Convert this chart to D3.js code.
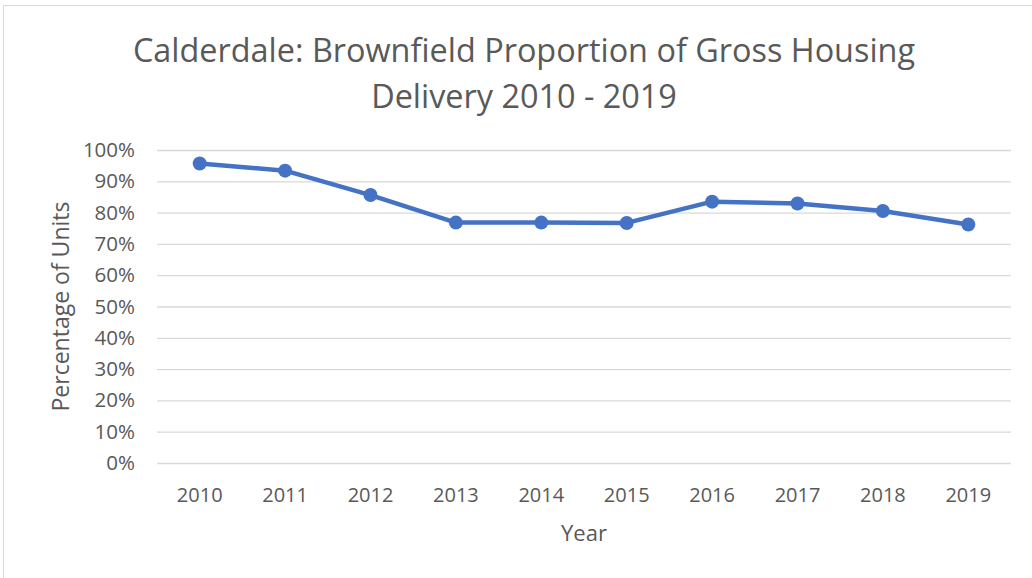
<!DOCTYPE html>
<html>
<head>
<meta charset="utf-8">
<script src="https://cdn.jsdelivr.net/npm/d3@7"></script>
<style>
  html, body { margin: 0; padding: 0; background: #fff; }
  svg text { font-family: "Open Sans", "Noto Sans", sans-serif; fill: #595959; }
</style>
</head>
<body>
<svg id="chart" width="1032" height="578"></svg>
<script>
// Brownfield share of gross housing delivery, by year
const years = ["2010", "2011", "2012", "2013", "2014", "2015", "2016", "2017", "2018", "2019"];
const brownfieldShare = [0.957, 0.934, 0.856, 0.768, 0.768, 0.767, 0.835, 0.829, 0.805, 0.762];
const yTicks = [0, 0.1, 0.2, 0.3, 0.4, 0.5, 0.6, 0.7, 0.8, 0.9, 1.0];
const titleLines = ["Calderdale: Brownfield Proportion of Gross Housing", "Delivery 2010 - 2019"];

const svg = d3.select("#chart");
const W = 1032, H = 578;
const plot = { left: 157, right: 1011, top: 150, bottom: 463 };

// chart frame
svg.append("rect")
  .attr("x", 3.5).attr("y", 5.5)
  .attr("width", W + 10).attr("height", H + 10)
  .attr("fill", "#fff").attr("stroke", "#D9D9D9").attr("stroke-width", 1);

const x = d3.scaleBand().domain(years).range([plot.left, plot.right]);
const y = d3.scaleLinear().domain([0, 1]).range([plot.bottom, plot.top]);

// title
svg.append("g").selectAll("text").data(titleLines).join("text")
  .attr("x", 524).attr("y", (d, i) => 62 + i * 46)
  .attr("text-anchor", "middle")
  .style("font-size", "32.4px")
  .text(d => d);

// gridlines + y labels
const yAxis = d3.axisLeft(y)
  .tickValues(yTicks)
  .tickFormat(d3.format(".0%"))
  .tickSize(-(plot.right - plot.left))
  .tickPadding(22);
const gy = svg.append("g").attr("transform", `translate(${plot.left},0)`).call(yAxis);
gy.select(".domain").remove();
gy.selectAll(".tick line").attr("stroke", "#D9D9D9").attr("stroke-width", 1.3);
gy.selectAll(".tick text").style("font-size", "20.5px").attr("fill", "#595959");

// x labels
const xAxis = d3.axisBottom(x).tickSize(0).tickPadding(25);
const gx = svg.append("g").attr("transform", `translate(0,${plot.bottom})`).call(xAxis);
gx.select(".domain").remove();
gx.selectAll(".tick text").style("font-size", "20px").attr("fill", "#595959");

// axis titles
svg.append("text")
  .attr("transform", `translate(69,${(plot.top + plot.bottom) / 2}) rotate(-90)`)
  .attr("text-anchor", "middle")
  .style("font-size", "23px")
  .text("Percentage of Units");
svg.append("text")
  .attr("x", (plot.left + plot.right) / 2).attr("y", 541)
  .attr("text-anchor", "middle")
  .style("font-size", "22px")
  .text("Year");

// series
const pts = years.map((yr, i) => ({ yr, v: brownfieldShare[i] }));
const line = d3.line().x(d => x(d.yr) + x.bandwidth() / 2).y(d => y(d.v));
svg.append("path").datum(pts)
  .attr("d", line)
  .attr("fill", "none")
  .attr("stroke", "#4472C4")
  .attr("stroke-width", 4.5)
  .attr("stroke-linejoin", "round");
svg.append("g").selectAll("circle").data(pts).join("circle")
  .attr("cx", d => x(d.yr) + x.bandwidth() / 2)
  .attr("cy", d => y(d.v))
  .attr("r", 7)
  .attr("fill", "#4472C4");
</script>
</body>
</html>
